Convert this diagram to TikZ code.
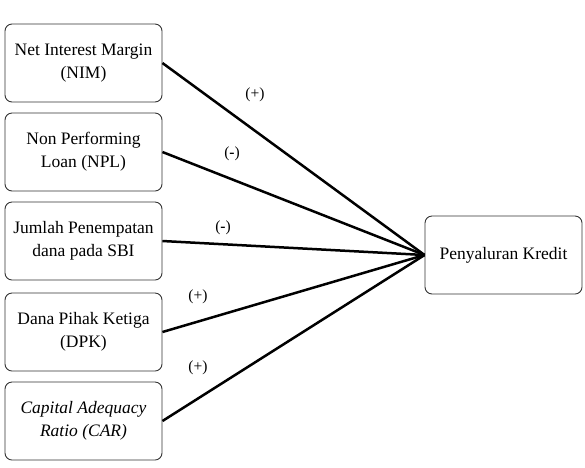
\documentclass[tikz,border=0pt]{standalone}
\usepackage{fontspec}
\setmainfont{Liberation Serif}
\usetikzlibrary{positioning}
\tikzset{
  var/.style  = {draw=black!80, rounded corners=7pt, line width=0.9pt,
                 minimum width=157pt, minimum height=78pt, inner sep=2pt,
                 align=center, font=\fontsize{17.5}{23}\selectfont},
  link/.style = {line width=2.5pt, black},
  sign/.style = {font=\fontsize{15.5}{18}\selectfont}
}

\begin{document}
\begin{tikzpicture}[x=1pt, y=-1pt]
    \useasboundingbox (0,0) rectangle (585,467);
    % independent variables
    \node[var](nim) at (83.5,63)  {Net Interest Margin\\(NIM)};
    \node[var](npl) at (83.5,152) {Non Performing\\Loan (NPL)};
    \node[var](sbi) at (83.5,241) {Jumlah Penempatan\\dana pada SBI};
    \node[var](dpk) at (83.5,332) {Dana Pihak Ketiga\\(DPK)};
    \node[var](car) at (83.5,421) {\itshape Capital Adequacy\\\itshape Ratio (CAR)};
    % dependent variable
    \node[var](kredit) at (503.5,255) {Penyaluran Kredit};
    \draw[link](nim.east)--(kredit.west); \draw[link](npl.east)--(kredit.west);
    \draw[link](sbi.east)--(kredit.west); \draw[link](dpk.east)--(kredit.west);
    \draw[link](car.east)--(kredit.west);
    \node[sign] at (255,95)  {(+)};
    \node[sign] at (232,154) {(\textbf{-})};
    \node[sign] at (223,228) {(\textbf{-})};
    \node[sign] at (198,297) {(+)};
    \node[sign] at (198,368) {(+)};
\end{tikzpicture}
\end{document}
